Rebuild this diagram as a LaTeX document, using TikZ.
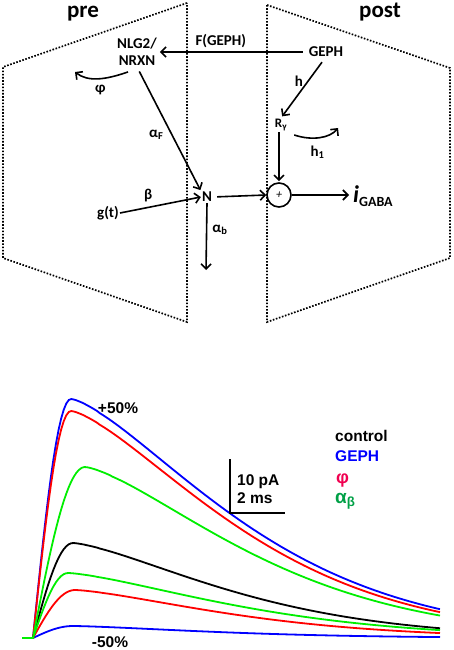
\documentclass[tikz,border=0pt]{standalone}
\usepackage{fontspec}
\setmainfont{Carlito}
\newfontfamily\arialfont{Liberation Sans}
\usetikzlibrary{arrows.meta,calc}
\definecolor{trblue}{RGB}{0,0,255}
\definecolor{trred}{RGB}{255,0,0}
\definecolor{trgreen}{RGB}{0,238,0}
\definecolor{legred}{RGB}{240,0,80}
\definecolor{leggreen}{RGB}{0,160,70}

\begin{document}
\begin{tikzpicture}[x=1pt,y=-1pt,
    lbl/.style={font=\fontsize{15}{17}\selectfont\bfseries, inner sep=1pt, align=center},
    flow/.style={line width=1.6pt, -{Straight Barb[length=5pt,width=10pt]}},
    membrane/.style={line width=1.7pt, dash pattern=on 1.6pt off 1.6pt},
    trace/.style={line width=1.8pt},
    plotlbl/.style={font=\arialfont\fontsize{15.5}{17}\selectfont\bfseries, inner sep=0pt},
    declare function={ipsc(\x,\tpk,\tdc)=(\x<\tpk)*sin(min(\x,\tpk)*(90/\tpk))+(\x>=\tpk)*exp(-(max(\x-\tpk,0.01)/\tdc)^1.4);}]
  \useasboundingbox (0,0) rectangle (454,650);

  % pre and post sides
  \draw[membrane] (187,3) -- (3,67) -- (3,258) -- (187,322) -- cycle;
  \draw[membrane] (267,5) -- (450,68) -- (450,258) -- (267,322) -- cycle;
  \node[lbl, font=\fontsize{23}{25}\selectfont\bfseries, anchor=base] (pre) at (83,18) {pre};
  \node[lbl, font=\fontsize{23}{25}\selectfont\bfseries, anchor=base] (post) at (380,18) {post};

  % model
  \node[lbl] (nlg) at (137,52) {NLG2/\\NRXN};
  \node[lbl] (geph) at (326,52) {GEPH};
  \node[lbl, font=\fontsize{13}{15}\selectfont\bfseries] (rg) at (281,125) {R\textsubscript{γ}};
  \node[lbl] (N) at (207,197) {N};
  \node[lbl] (gt) at (108,213) {g(t)};
  \node[circle, draw, line width=1.6pt, minimum size=24pt, inner sep=0pt,
        font=\fontsize{12}{12}\selectfont\itshape] (sum) at (279,195) {+};
  \node[anchor=base west, inner sep=1pt, font=\bfseries] (igaba) at (352,202)
        {{\fontsize{24}{24}\selectfont\itshape i}\raisebox{-4pt}{\fontsize{14}{14}\selectfont GABA}};
  \coordinate (ab) at (206,270);
  \coordinate (phiend) at (75,72);
  \coordinate (hend) at (338,128);

  \draw[flow, shorten <=5pt, shorten >=2pt] (geph.west) -- (nlg.east)
        node[lbl, above=2pt, pos=0.58] {F(GEPH)};
  \draw[flow, shorten >=2pt] ($(geph.south)+(-4,4)$) -- (rg.north)
        node[lbl, left=3pt, pos=0.35] {h};
  \draw[flow, shorten >=1pt] (rg.south -| sum.north) -- (sum.north);
  \draw[flow, shorten <=4pt] (N.east) -- (sum.west);
  \draw[flow, shorten >=3pt] (sum.east) -- (sum.east -| igaba.west);
  \draw[flow] (gt.east) -- (N.west)
        node[lbl, above=4pt, pos=0.35] {β};
  \draw[flow, shorten <=5pt, shorten >=1pt] (nlg.south) -- (N.north west)
        node[lbl, left=7pt, pos=0.55] {α\textsubscript{F}};
  \draw[flow] (N.south) -- (ab)
        node[lbl, right=4pt, pos=0.4] {α\textsubscript{b}};
  \draw[flow] ($(nlg.south)+(-9,5)$) .. controls +(-23,8) and +(13,10) .. (phiend)
        node[lbl, below=5pt, pos=0.45] {φ};
  \draw[flow] ($(rg.east)+(6,10)$) .. controls +(18,6) and +(-8,10) .. (hend)
        node[lbl, below=6pt, pos=0.45] {h\textsubscript{1}};

  % simulated currents
  \draw[trace, trblue] (22,638) -- (33,638) -- plot[domain=0:407, samples=160] ({33+\x},{638-239*ipsc(\x,38,216)});
  \draw[trblue, trace] (33,638) -- plot[domain=0:407, samples=160] ({33+\x},{638-12*ipsc(\x,40,188)});
  \draw[trace, trred] (33,638) -- plot[domain=0:407, samples=160] ({33+\x},{638-227*ipsc(\x,38,212)});
  \draw[trace, trred] (33,638) -- plot[domain=0:407, samples=160] ({33+\x},{638-48*ipsc(\x,42,203)});
  \draw[trace, black] (33,638) -- plot[domain=0:407, samples=160] ({33+\x},{638-95*ipsc(\x,40,204)});
  \draw[trace, trgreen] (33,638) -- plot[domain=0:407, samples=160] ({33+\x},{638-171*ipsc(\x,52,214)});
  \draw[trace, trgreen] (22,638) -- (33,638) -- plot[domain=0:407, samples=160] ({33+\x},{638-65*ipsc(\x,35,218)});

  \node[plotlbl] (up) at (118,408) {+50\%};
  \node[plotlbl] (down) at (110,642) {-50\%};

  % scale bar
  \coordinate (sbtop) at (230,459);
  \coordinate (sbcorner) at (230,513);
  \coordinate (sbright) at (285,513);
  \draw[line width=1.8pt] (sbtop) -- (sbcorner) -- (sbright);
  \node[plotlbl, anchor=base west] (pa) at (237,485) {10 pA};
  \node[plotlbl, anchor=base west] (ms) at (237,503) {2 ms};

  % legend
  \node[plotlbl, anchor=base west] (lctl) at (335,441) {control};
  \node[plotlbl, anchor=base west, text=trblue] (lgeph) at (335,461) {GEPH};
  \node[plotlbl, anchor=base west, text=legred, font=\arialfont\fontsize{18}{18}\selectfont\bfseries] (lphi) at (336,483) {φ};
  \node[plotlbl, anchor=base west, text=leggreen, font=\arialfont\fontsize{19}{19}\selectfont\bfseries] (lab) at (335,503) {α\textsubscript{β}};
\end{tikzpicture}
\end{document}
